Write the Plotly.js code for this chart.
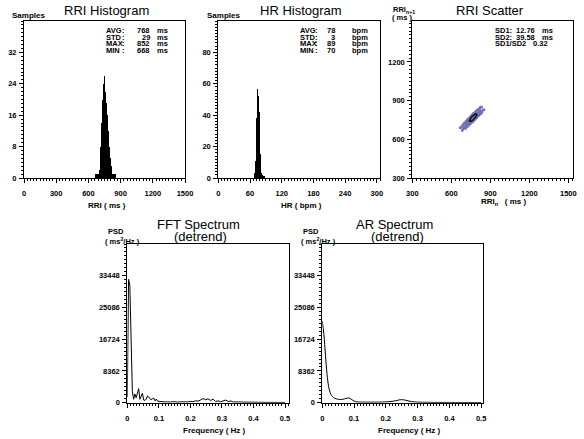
<!DOCTYPE html>
<html><head><meta charset="utf-8">
<script src="https://cdn.plot.ly/plotly-3.0.1.min.js"></script>
<style>html,body{margin:0;padding:0;background:#fff}#chart{width:584px;height:439px}</style>
</head><body><div id="chart"></div>
<script>
// ---------- data ----------
const rriBinStart = [664,672,680,688,696,704,712,720,728,736,744,752,760,768,776,784,792,800,808,816,824,832,840,848];
const rriCounts   = [1,1,1,1,2,4,8,14,20,24,26,22,21,19,16,12,8,5,3,2,1,1,1,1];
const hrBinStart  = [68,69,70,71,72,73,74,75,76,77,78,79,80,81,82,83,84,85,86,87,88];
const hrCounts    = [3,6,11,24,38,48,57,61,52,42,37,15,7,3,2,2,1,1,1,1,1];
const rrSeries = [760,772,755,779,768,790,782,761,771,797,788,766,781,769,748,768,783,763,752,775,791,776,762,788,800,784,770,797,815,795,785,806,825,802,790,815,834,810,799,822,846,827,812,833,851,830,818,836,812,798,812,790,778,795,770,760,779,753,744,764,738,731,749,724,717,737,711,702,722,697,690,710,684,668,690,681,700,690,714,701,726,713,739,726,751,738,763,751,776,763,788,775,800,787,811,799,822,808,832,818,805,826,801,790,810,785,774,794,769,760,780,755,747,766,742,735,754,731,724,742,720,713,733,711,705,725,738,722,748,735,758,744,768,754,778,763,787,773,796,782,805,790,812,797,820,803,790,812,786,775,795,769,761,780,755,747,768,743,736,757,734,728,747,762,749,774,758,782,768,791,777,800,786,774,795,771,762,781,757,750,770,756,768];
const fftFreq = [0,0.004,0.008,0.012,0.016,0.020,0.024,0.028,0.032,0.036,0.040,0.044,0.048,0.052,0.056,0.060,0.064,0.068,0.072,0.076,0.080,0.084,0.088,0.092,0.096,0.100,0.104,0.108,0.112,0.116,0.120,
  0.128,0.136,0.144,0.152,0.160,0.168,0.176,0.184,0.192,0.200,0.208,0.216,0.224,0.232,0.240,0.248,0.256,0.264,0.272,0.280,0.288,0.296,0.304,0.312,0.320,0.328,0.336,0.344,0.352,0.360,0.368,0.376,0.384,0.392,0.400,0.408,0.416,0.424,0.432,0.440,0.448,0.456,0.464,0.472,0.480,0.488,0.496,0.500];
const fftPsd = [1500,32500,31000,15000,3000,900,2300,1300,2400,3700,900,1800,2500,700,600,950,1800,1500,1200,700,1100,1200,500,950,400,350,300,250,200,300,200,
  250,150,300,200,150,250,180,300,200,350,250,500,400,700,1100,800,1000,600,900,300,500,250,400,700,300,450,200,250,150,200,150,180,120,150,100,130,100,120,90,110,80,100,80,90,70,80,70,60];
const arFreq = [0,0.005,0.01,0.015,0.02,0.025,0.03,0.035,0.04,0.045,0.05,0.055,0.06,0.065,0.07,0.075,0.08,0.085,0.09,0.095,0.1,0.105,0.11,0.12,0.13,0.14,0.15,0.16,0.17,0.18,0.19,0.2,0.21,0.22,0.23,0.24,0.25,0.26,0.27,0.28,0.29,0.3,0.32,0.34,0.36,0.38,0.4,0.42,0.44,0.46,0.48,0.5];
const arPsd  = [21500,18000,12500,7500,4200,2600,1800,1400,1150,1000,900,850,850,900,1000,1150,1250,1200,1000,700,450,300,220,180,160,150,140,140,150,160,180,210,260,350,500,700,800,700,480,300,200,150,110,90,80,70,65,60,55,50,50,50];
const statLabels = ['AVG','STD','MAX','MIN'];
const rriStatValues = ['768','29','852','668'];
const hrStatValues = ['78','3','89','70'];
const poincareLabels = ['SD1:','SD2:','SD1/SD2'];
const poincareValues = ['12.76','39.58','0.32'];
const poincareUnits = ['ms','ms',''];
const sd1 = 12.76, sd2 = 39.58, rrMean = 768;
const rriTickVals = [0,300,600,900,1200,1500];
const rriCountTicks = [0,8,16,24,32];
const hrTickVals = [0,60,120,180,240,300];
const hrCountTicks = [0,20,40,60,80];
const scatterTickVals = [300,600,900,1200,1500];
const scatterYTicks = [300,600,900,1200];
const freqTicks = [0,0.1,0.2,0.3,0.4,0.5];
const freqTickText = ['0','0.1','0.2','0.3','0.4','0.5'];
const psdTicks = [0,8362,16724,25086,33448];
const psdTickText = ['0','8362','16724','25086','33448'];

// ---------- helpers ----------
const W = 584, H = 439;
const FONT = 'Liberation Sans, Arial, sans-serif';
const px = v => v / W;
const py = v => 1 - v / H;

function axis(domain, range, tickvals, minorDtick, isX, ticktext) {
  const a = {
    domain: domain, range: range, tickmode: 'array', tickvals: tickvals,
    showgrid: false, zeroline: false, showline: true, linecolor: '#000', linewidth: 1, mirror: true,
    ticks: 'outside', ticklen: 4, tickwidth: 1, tickcolor: '#000',
    minor: {tickmode: 'linear', tick0: 0, dtick: minorDtick, ticks: 'outside', ticklen: 2, tickwidth: 1, tickcolor: '#000', showgrid: false},
    tickfont: {family: FONT, size: 7.5, color: '#000', weight: 'bold'},
    ticklabelstandoff: isX ? 4 : 1,
    fixedrange: true
  };
  if (ticktext) a.ticktext = ticktext;
  return a;
}

// ellipse derived from SD1/SD2 stats
const ex = [], ey = [];
for (let a = 0; a <= 360; a += 10) {
  const t = a * Math.PI / 180;
  const u = sd2 * Math.cos(t), v = sd1 * Math.sin(t);
  ex.push(rrMean + (u - v) / Math.SQRT2);
  ey.push(rrMean + (u + v) / Math.SQRT2);
}

const traces = [
  {type: 'bar', x: rriBinStart, y: rriCounts, width: 8, offset: 0, marker: {color: '#000', line: {width: 0}}, xaxis: 'x', yaxis: 'y', hoverinfo: 'skip'},
  {type: 'bar', x: hrBinStart, y: hrCounts, width: 1, offset: 0, marker: {color: '#000', line: {width: 0}}, xaxis: 'x2', yaxis: 'y2', hoverinfo: 'skip'},
  {type: 'scatter', mode: 'markers', x: rrSeries.slice(0, -1), y: rrSeries.slice(1), marker: {symbol: 'square', size: 2.5, color: '#7070b2'}, xaxis: 'x3', yaxis: 'y3'},
  {type: 'scatter', mode: 'lines', x: ex, y: ey, line: {color: '#000', width: 1.2}, xaxis: 'x3', yaxis: 'y3'},
  {type: 'scatter', mode: 'lines', x: fftFreq, y: fftPsd, line: {color: '#000', width: 1}, xaxis: 'x4', yaxis: 'y4'},
  {type: 'scatter', mode: 'lines', x: arFreq, y: arPsd, line: {color: '#000', width: 1, shape: 'spline'}, xaxis: 'x5', yaxis: 'y5'}
];

const topY = [py(178), py(21)];
const botY = [py(402.7), py(244)];

const layout = {
  width: W, height: H, margin: {l: 0, r: 0, t: 0, b: 0},
  paper_bgcolor: '#fff', plot_bgcolor: '#fff', showlegend: false, bargap: 0,
  font: {family: FONT, color: '#000'},
  xaxis:  axis([px(24), px(185)], [0, 1500], rriTickVals, 30, true),
  yaxis:  axis(topY, [0, 40], rriCountTicks, 1, false),
  xaxis2: axis([px(218.3), px(380)], [0, 306], hrTickVals, 6, true),
  yaxis2: axis(topY, [0, 100], hrCountTicks, 2, false),
  xaxis3: axis([px(412.3), px(573.3)], [300, 1538], scatterTickVals, 30, true),
  yaxis3: axis(topY, [300, 1518], scatterYTicks, 30, false),
  xaxis4: axis([px(127.3), px(289)], [0, 0.5125], freqTicks, 0.01, true, freqTickText),
  yaxis4: axis(botY, [0, 41810], psdTicks, 1045.25, false, psdTickText),
  xaxis5: axis([px(322.3), px(482.7)], [0, 0.505], freqTicks, 0.01, true, freqTickText),
  yaxis5: axis(botY, [0, 41810], psdTicks, 1045.25, false, psdTickText),
  annotations: []
};
['', '2', '3', '4', '5'].forEach(s => {
  layout['xaxis' + s].anchor = 'y' + s;
  layout['yaxis' + s].anchor = 'x' + s;
});

const ann = layout.annotations;
function txt(t, x, y, size, opts) {
  ann.push(Object.assign({text: t, x: px(x), y: py(y), xref: 'paper', yref: 'paper', showarrow: false,
    xanchor: 'center', yanchor: 'middle', font: {family: FONT, size: size, color: '#000', weight: 'bold'}}, opts || {}));
}
function titleTxt(t, x, y) {
  ann.push({text: t, x: px(x), y: py(y), xref: 'paper', yref: 'paper', showarrow: false, xanchor: 'center', yanchor: 'middle',
    font: {family: FONT, size: 13, color: '#000'}});
}
// titles
titleTxt('RRI Histogram', 106, 11);
titleTxt('HR Histogram', 300.5, 11);
titleTxt('RRI Scatter', 490, 11);
titleTxt('FFT Spectrum', 199, 224);
titleTxt('(detrend)', 200, 236);
titleTxt('AR Spectrum', 394, 224);
titleTxt('(detrend)', 398, 236);
// axis labels
txt('Samples', 28, 16, 8);
txt('Samples', 223, 16, 8);
txt('RRI ( ms )', 106.5, 205, 8);
txt('HR ( bpm )', 301.5, 205, 8);
txt('RRI<sub>n</sub>   ( ms )', 504, 202, 8);
txt('RRI<sub>n+1</sub>', 404, 10, 7.5);
txt('( ms )', 402, 18, 7.5);
txt('Frequency ( Hz )', 214, 430, 8);
txt('Frequency ( Hz )', 409, 430, 8);
txt('PSD', 116, 231.5, 7.5);
txt('( ms<sup>2</sup>/Hz )', 122, 241, 7.5);
txt('PSD', 311, 231.5, 7.5);
txt('( ms<sup>2</sup>/Hz )', 318, 241, 7.5);
// stats
const rowY = [30.7, 37, 43.5, 50];
statLabels.forEach((l, i) => {
  txt(l, 104, rowY[i], 7.5, {xanchor: 'left'});
  txt(':', 123, rowY[i], 7.5);
  txt(rriStatValues[i], 152, rowY[i], 7.5, {xanchor: 'right'});
  txt('ms', 155, rowY[i], 7.5, {xanchor: 'left'});
  txt(l, 298, rowY[i], 7.5, {xanchor: 'left'});
  txt(':', 316, rowY[i], 7.5);
  txt(hrStatValues[i], 336.7, rowY[i], 7.5, {xanchor: 'right'});
  txt('bpm', 350, rowY[i], 7.5, {xanchor: 'left'});
});
poincareLabels.forEach((l, i) => {
  txt(l, 492.7, rowY[i], 7.5, {xanchor: 'left'});
  txt(poincareValues[i], i < 2 ? 536.7 : 550, rowY[i], 7.5, {xanchor: 'right'});
  if (poincareUnits[i]) txt(poincareUnits[i], 540, rowY[i], 7.5, {xanchor: 'left'});
});

Plotly.newPlot('chart', traces, layout, {staticPlot: true, displayModeBar: false});
</script>
</body></html>
